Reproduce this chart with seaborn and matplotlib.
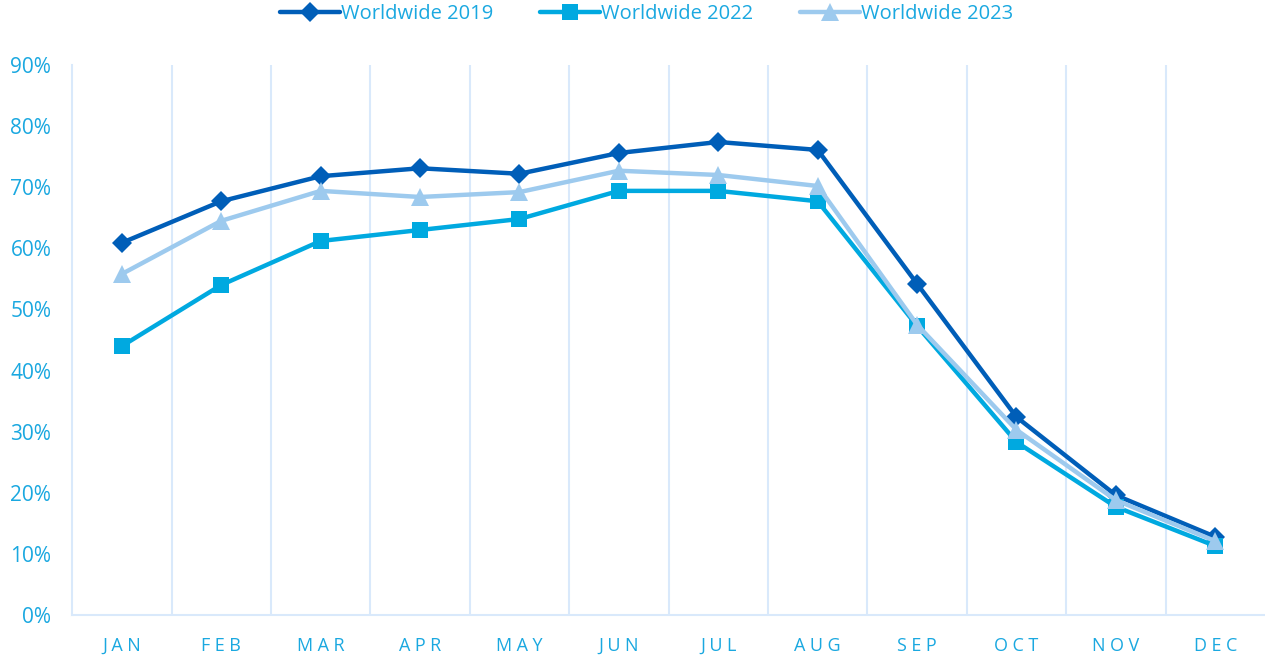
import pandas as pd
import numpy as np
import matplotlib.pyplot as plt
import seaborn as sns
from matplotlib.ticker import PercentFormatter, FixedLocator

months = ["JAN", "FEB", "MAR", "APR", "MAY", "JUN", "JUL", "AUG", "SEP", "OCT", "NOV", "DEC"]
ww_2019 = [60.9, 67.7, 71.8, 73.1, 72.2, 75.6, 77.4, 76.1, 54.2, 32.4, 19.6, 12.8]
ww_2022 = [44.0, 54.0, 61.2, 63.0, 64.8, 69.4, 69.4, 67.7, 47.3, 28.3, 17.7, 11.3]
ww_2023 = [55.8, 64.5, 69.4, 68.4, 69.2, 72.7, 72.0, 70.2, 47.5, 30.3, 18.8, 12.1]
series_names = ["Worldwide 2019", "Worldwide 2022", "Worldwide 2023"]

text_col = "#1aa8e0"
grid_col = "#d9e9fb"
styles = {
    "Worldwide 2019": dict(color="#005eb8", marker="D", markersize=10),
    "Worldwide 2022": dict(color="#00a9e0", marker="s", markersize=11.5),
    "Worldwide 2023": dict(color="#9dcaee", marker="^", markersize=12.5),
}

df = pd.DataFrame({"month": months * 3,
                   "value": ww_2019 + ww_2022 + ww_2023,
                   "series": np.repeat(series_names, len(months))})
df["x"] = np.tile(np.arange(len(months)), 3)

sns.set_style("white")
plt.rcParams["font.family"] = ["Open Sans", "DejaVu Sans"]

fig = plt.figure(figsize=(12.65, 6.55), dpi=100)
ax = fig.add_axes([0.057, 0.061, 0.943, 0.8398])

for name in series_names:
    st = styles[name]
    sns.lineplot(data=df[df["series"] == name], x="x", y="value", ax=ax,
                 color=st["color"], marker=st["marker"], markersize=st["markersize"],
                 markeredgewidth=0, linewidth=3.2, label=name)

ax.set_xlim(-0.5, 11.5)
ax.set_ylim(0, 90)
ax.set_yticks(np.arange(0, 91, 10))
ax.yaxis.set_major_formatter(PercentFormatter(decimals=0))
ax.set_xticks(np.arange(len(months)))
ax.set_xticklabels(["\u2005".join(m) for m in months])
ax.xaxis.set_minor_locator(FixedLocator(np.arange(0.5, 11.5, 1)))
ax.grid(False)
ax.grid(True, which="minor", axis="x", color=grid_col, linewidth=1.5)
ax.tick_params(axis="both", which="both", length=0, colors=text_col)
ax.tick_params(axis="y", labelsize=15, pad=15)
ax.tick_params(axis="x", labelsize=13, pad=16)
for s in ["top", "right"]:
    ax.spines[s].set_visible(False)
for s in ["left", "bottom"]:
    ax.spines[s].set_color(grid_col)
    ax.spines[s].set_linewidth(1.5)
ax.set_xlabel("")
ax.set_ylabel("")

handles, labels = ax.get_legend_handles_labels()
ax.get_legend().remove()
leg = fig.legend(handles, labels, loc="upper center", bbox_to_anchor=(0.511, 1.022), ncol=3,
                 frameon=False, fontsize=14.5, handlelength=3.0, handletextpad=0.05,
                 columnspacing=2.3)
for t in leg.get_texts():
    t.set_color(text_col)

fig.savefig("out.png", dpi=100)
